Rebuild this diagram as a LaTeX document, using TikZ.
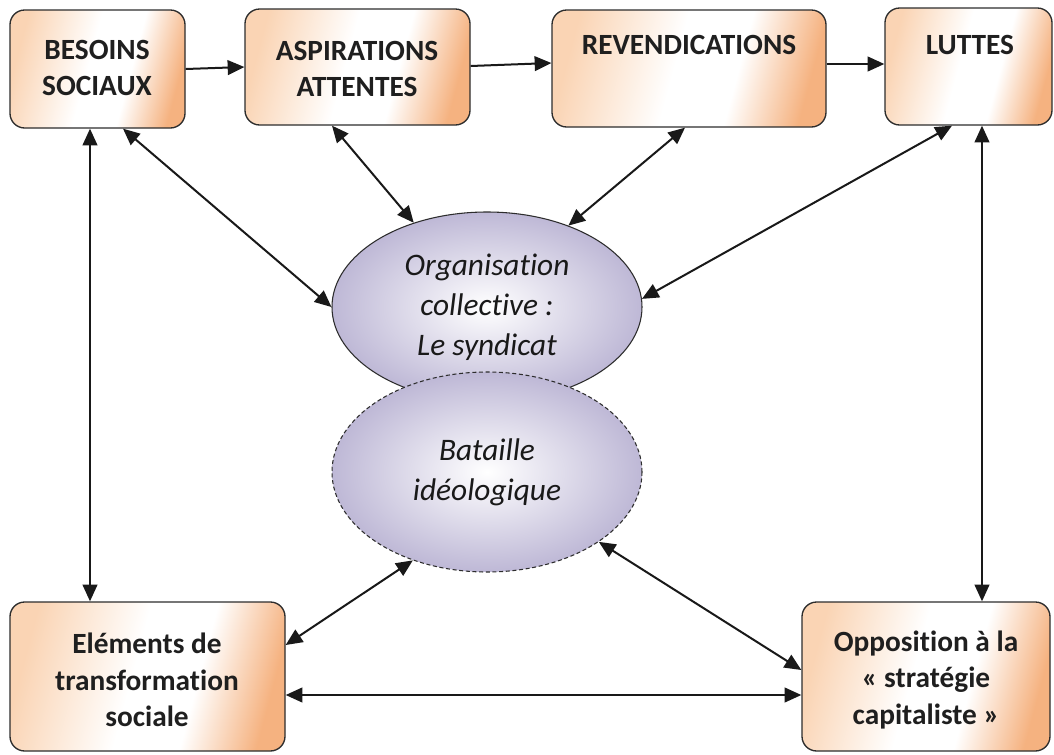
\documentclass[tikz,border=0pt]{standalone}
\usepackage{fontspec}
\setmainfont{Carlito}[Ligatures=NoCommon]
\usetikzlibrary{arrows.meta,shapes.geometric,fit,calc}
\definecolor{peach}{RGB}{245,178,128}
\definecolor{peachlt}{RGB}{250,212,180}
\definecolor{lav}{RGB}{190,184,214}
\definecolor{edgec}{RGB}{45,45,45}
\pgfdeclarehorizontalshading{boxshade}{100bp}{color(0bp)=(peachlt); color(25bp)=(peachlt); color(47bp)=(white); color(60bp)=(white); color(75bp)=(peach); color(100bp)=(peach)}
\begin{document}
\begin{tikzpicture}[x=0.75pt,y=-0.75pt,
  box/.style={draw=edgec, line width=1pt, rounded corners=11pt, shading=boxshade, shading angle=-15, inner sep=0pt},
  lbl/.style={font=\fontsize{22}{27.5}\selectfont\bfseries, align=center, text=black!88},
  ell/.style={ellipse, draw=edgec, line width=0.8pt, inner color=white, outer color=lav, minimum width=232.5pt, minimum height=142.5pt, inner sep=0pt, font=\fontsize{23.5}{30}\selectfont\itshape, align=center, text=black!90},
  arr/.style={line width=1.5pt, draw=black!90, -{Triangle[length=12.5pt,width=11pt]}},
  darr/.style={line width=1.5pt, draw=black!90, {Triangle[length=12.5pt,width=11pt]}-{Triangle[length=12.5pt,width=11pt]}}]
\useasboundingbox (0,0) rectangle (1054,754);
\fill[white] (0,0) rectangle (1054,754);
% boxes
\node[box, fit={(10,10)(185,128)}] (b) {};
\node[box, fit={(245,9)(470,125)}] (a) {};
\node[box, fit={(552,10)(826,127)}] (r) {};
\node[box, fit={(885,8)(1052,125)}] (l) {};
\node[box, fit={(10,602)(285,751)}] (e) {};
\node[box, fit={(802,602)(1050,751)}] (o) {};
% labels
\node[lbl] (bt) at (97,68) {BESOINS\\SOCIAUX};
\node[lbl] (at) at (357,69) {ASPIRATIONS\\ATTENTES};
\node[lbl] (rt) at (689,45) {REVENDICATIONS};
\node[lbl] (lt) at (970,45) {LUTTES};
\node[lbl] (et) at (147,680) {Eléments de\\transformation\\sociale};
\node[lbl] (ot) at (926,680) {Opposition à la\\« stratégie\\capitaliste »};
% ellipses
\node[ell] (org) at (487,307) {Organisation\\collective :\\Le syndicat};
\node[ell, dash pattern=on 3pt off 2pt, minimum height=150pt] (bat) at (487,472) {Bataille\\idéologique};
% arrows
\draw[arr] (b.east) -- (a.west);
\draw[arr] (a.east |- 0,66) -- (r.west |- 0,63);
\draw[arr] (r.east |- 0,64) -- (l.west |- 0,64);
\draw[darr] (b.south -| 90,0) -- (e.north -| 90,0);
\draw[darr] (b.south -| 123,0) -- (org.west);
\draw[darr] (a.south -| 332,0) -- (org.131);
\draw[darr] (r.south -| 685,0) -- (org.45);
\draw[darr] (l.south -| 952,0) -- (org.3);
\draw[darr] (l.south -| 982,0) -- (o.north -| 982,0);
\draw[darr] (e.east |- 0,645) -- (bat.230);
\draw[darr] (o.west |- 0,670) -- (bat.328);
\draw[darr] (e.east |- 0,695) -- (o.west |- 0,695);
\end{tikzpicture}
\end{document}
